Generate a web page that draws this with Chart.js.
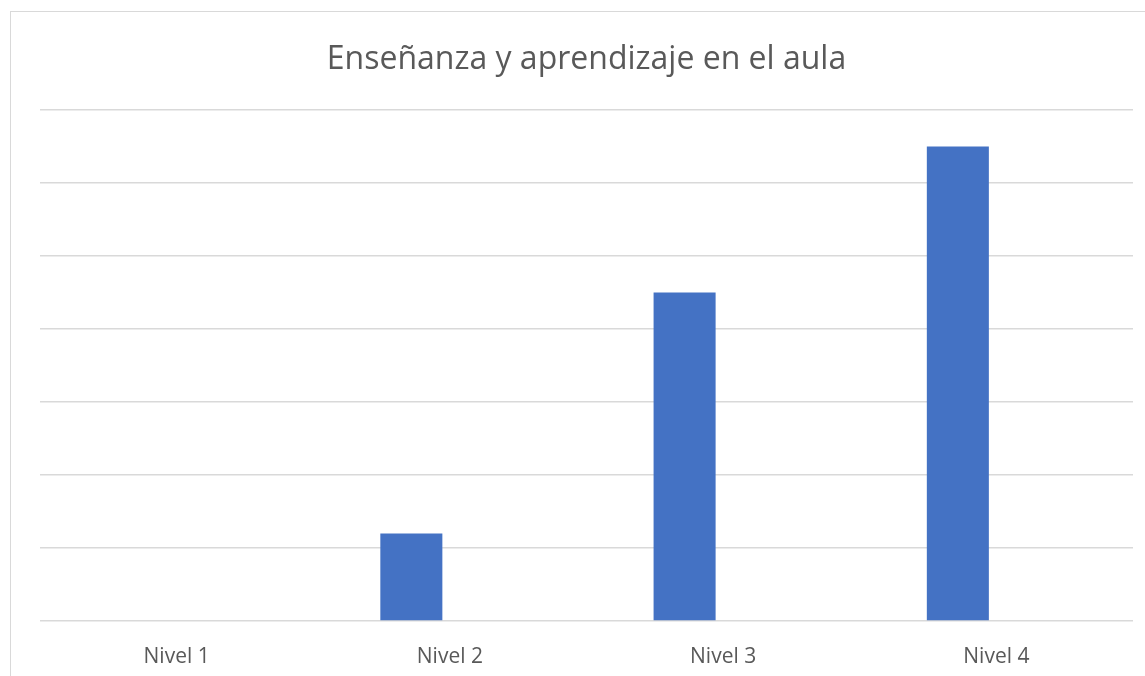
<!DOCTYPE html>
<html>
<head>
<meta charset="utf-8">
<script src="https://cdn.jsdelivr.net/npm/chart.js@4/dist/chart.umd.min.js"></script>
<style>
  html, body { margin: 0; padding: 0; background: #fff; overflow: hidden; }
  #frame { position: absolute; left: 10px; top: 11px; width: 1200px; height: 700px; border: 1px solid #d9d9d9; }
  #wrap { position: absolute; left: 0; top: 0; width: 1145px; height: 676px; }
</style>
</head>
<body>
<div id="frame"></div>
<div id="wrap"><canvas id="chart"></canvas></div>
<script>
// datos del grafico
var niveles = ["Nivel 1", "Nivel 2", "Nivel 3", "Nivel 4"];
var valores = [0, 1.2, 4.5, 6.5];
var vacia = [0, 0, 0, 0];
var titulo = "Enseñanza y aprendizaje en el aula";

var chartdata = {
    labels: niveles,
    datasets: [
        {
            data: valores,
            backgroundColor: '#4472C4',
            borderWidth: 0,
            categoryPercentage: 0.564,
            barPercentage: 0.805
        },
        {
            data: vacia,
            backgroundColor: '#ED7D31',
            borderWidth: 0,
            categoryPercentage: 0.564,
            barPercentage: 0.805
        }
    ]
};

var ctx = document.getElementById("chart");
var barGraph = new Chart(ctx, {
    type: 'bar',
    data: chartdata,
    options: {
        responsive: true,
        maintainAspectRatio: false,
        animation: false,
        layout: { padding: { left: 40, right: 12, top: 0, bottom: -17 } },
        plugins: {
            legend: { display: false },
            tooltip: { enabled: false },
            title: {
                display: true,
                text: titulo,
                color: '#595959',
                font: { family: 'Open Sans', size: 32, weight: 'normal' },
                padding: { top: 40.3, bottom: 31.3 }
            }
        },
        scales: {
            x: {
                grid: { display: false, drawTicks: false },
                border: { display: false },
                ticks: {
                    color: '#595959',
                    padding: 23.4,
                    font: { family: 'Open Sans', size: 21 }
                }
            },
            y: {
                min: 0,
                max: 7,
                ticks: { display: false, stepSize: 1 },
                grid: { color: '#d9d9d9', lineWidth: 1.5, drawTicks: false },
                border: { display: false }
            }
        }
    }
});
</script>
</body>
</html>
